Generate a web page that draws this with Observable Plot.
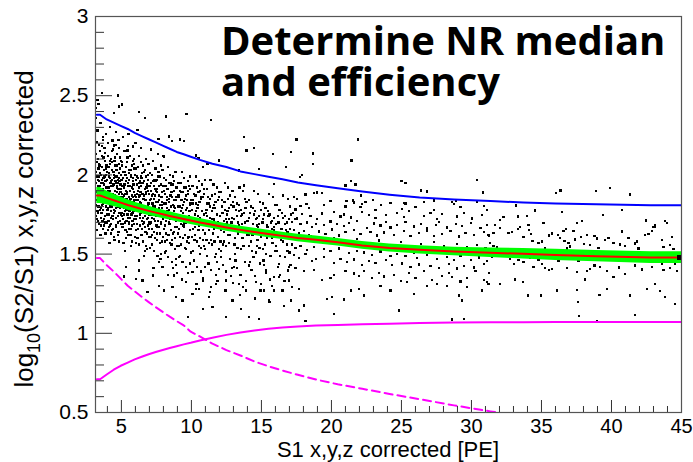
<!DOCTYPE html>
<html>
<head>
<meta charset="utf-8">
<script src="https://cdn.jsdelivr.net/npm/d3@7"></script>
<script src="https://cdn.jsdelivr.net/npm/@observablehq/plot@0.6"></script>
<style>
  html, body { margin: 0; padding: 0; background: #fff; }
  #wrap { position: relative; width: 693px; height: 462px; overflow: hidden; }
  svg [aria-label="dot"] path { shape-rendering: crispEdges; }
</style>
</head>
<body>
<div id="wrap">
  <div id="chart"></div>
</div>
<script>
// ---------- texts & axis ticks ----------
const titleLines = ["Determine NR median", "and efficiency"];
const xMajorTicks = [5, 10, 15, 20, 25, 30, 35, 40, 45];
const xMinorTicks = [4, 6, 7, 8, 9, 11, 12, 13, 14, 16, 17, 18, 19, 21, 22, 23, 24, 26, 27, 28, 29, 31, 32, 33, 34, 36, 37, 38, 39, 41, 42, 43, 44];
const yMajorTicks = [0.5, 1, 1.5, 2, 2.5, 3];
const yMinorTicks = [0.6, 0.7, 0.8, 0.9, 1.1, 1.2, 1.3, 1.4, 1.6, 1.7, 1.8, 1.9, 2.1, 2.2, 2.3, 2.4, 2.6, 2.7, 2.8, 2.9];
const xTitle = "S1 x,y,z corrected [PE]";
const yTitleMain = "log", yTitleSub = "10", yTitleRest = "(S2/S1) x,y,z corrected";

// ---------- binned curves (bin edges in S1 [PE]) ----------
const binEdges = [3.25, 3.7, 4.2, 4.7, 5.2, 5.7, 6.2, 6.7, 7.2, 7.7, 8.2, 8.7, 9.2, 9.7, 10.2, 11, 12, 13, 14, 15, 16, 17, 18.2, 19.6, 21.3, 23.1, 25.2, 27.4, 30.1, 32.6, 34.8, 37.2, 40.6, 45];
const upperLine = [2.38, 2.35, 2.33, 2.31, 2.29, 2.265, 2.245, 2.225, 2.205, 2.185, 2.165, 2.145, 2.13, 2.115, 2.095, 2.07, 2.05, 2.022, 2.005, 1.988, 1.972, 1.952, 1.935, 1.915, 1.895, 1.875, 1.857, 1.845, 1.835, 1.826, 1.82, 1.814, 1.809];
const medianLine = [1.87, 1.855, 1.84, 1.825, 1.81, 1.797, 1.785, 1.773, 1.762, 1.751, 1.741, 1.731, 1.721, 1.712, 1.70, 1.685, 1.668, 1.653, 1.64, 1.627, 1.615, 1.602, 1.59, 1.575, 1.555, 1.538, 1.527, 1.517, 1.508, 1.502, 1.495, 1.487, 1.478];
const medianErr = [0.05, 0.044, 0.04, 0.036, 0.033, 0.031, 0.03, 0.029, 0.028, 0.027, 0.026, 0.026, 0.025, 0.025, 0.024, 0.024, 0.023, 0.023, 0.023, 0.023, 0.023, 0.024, 0.024, 0.024, 0.025, 0.025, 0.026, 0.027, 0.03, 0.033, 0.035, 0.036, 0.037];
const effSolid = [0.71, 0.74, 0.77, 0.795, 0.815, 0.835, 0.852, 0.868, 0.882, 0.895, 0.907, 0.918, 0.93, 0.94, 0.955, 0.972, 0.99, 1.005, 1.018, 1.028, 1.036, 1.043, 1.049, 1.053, 1.057, 1.061, 1.065, 1.068, 1.07, 1.07, 1.071, 1.071, 1.071];
const effDashed = [1.475, 1.43, 1.39, 1.345, 1.30, 1.265, 1.23, 1.197, 1.165, 1.135, 1.105, 1.077, 1.05, 1.01, 0.98, 0.935, 0.894, 0.86, 0.822, 0.792, 0.765, 0.738, 0.708, 0.678, 0.65, 0.617, 0.584, 0.545, 0.507, 0.475, null, null, null];

// ---------- events: x (S1), y (log10 S2/S1) pairs ----------
const coreEvents = [
3.15,1.95, 3.22,2.08, 3.31,1.71, 3.38,1.88, 3.45,2.15, 3.52,1.79, 3.6,1.97, 3.68,1.66, 3.75,2.03, 3.83,1.84, 3.9,1.92, 3.97,1.75,
3.18,1.81, 3.27,2.21, 3.34,1.93, 3.41,1.69, 3.49,2.01, 3.57,1.87, 3.64,2.12, 3.71,1.78, 3.79,1.99, 3.86,1.63, 3.94,2.06,
3.16,1.74, 3.24,1.9, 3.36,2.04, 3.43,1.83, 3.51,1.62, 3.59,2.18, 3.66,1.91, 3.73,1.72, 3.81,2.09, 3.88,1.86, 3.96,1.97,
3.2,2.13, 3.29,1.77, 3.39,1.99, 3.47,1.93, 3.55,1.73, 3.62,2.05, 3.7,1.82, 3.77,1.68, 3.85,2.14, 3.92,1.8, 3.99,2.02,
3.17,1.89, 3.26,1.65, 3.33,2.1, 3.42,1.96, 3.5,1.86, 3.58,1.76, 3.67,2.22, 3.74,1.94, 3.82,1.7, 3.91,2.0, 3.98,1.85,
4.02,1.92, 4.08,1.71, 4.14,2.05, 4.21,1.84, 4.27,1.63, 4.33,1.97, 4.4,2.16, 4.46,1.78, 4.52,1.9, 4.59,1.67, 4.65,2.03, 4.71,1.81, 4.78,1.95, 4.84,1.58, 4.9,2.11, 4.97,1.86,
4.05,1.79, 4.11,1.99, 4.17,1.68, 4.24,2.1, 4.3,1.88, 4.36,1.74, 4.43,2.02, 4.49,1.61, 4.55,1.83, 4.62,2.19, 4.68,1.93, 4.74,1.7, 4.81,2.07, 4.87,1.76, 4.93,1.89, 4.99,2.0,
4.03,2.2, 4.09,1.86, 4.15,1.57, 4.22,1.95, 4.28,1.77, 4.35,2.08, 4.41,1.66, 4.47,1.98, 4.54,1.87, 4.6,1.73, 4.67,2.13, 4.73,1.91, 4.8,1.64, 4.86,1.96, 4.92,1.82, 4.98,1.69,
4.06,1.65, 4.13,2.01, 4.19,1.9, 4.25,1.73, 4.32,2.15, 4.38,1.82, 4.44,1.94, 4.51,1.59, 4.57,2.06, 4.64,1.85, 4.7,1.99, 4.76,1.62, 4.83,1.88, 4.89,2.04, 4.95,1.75,
4.07,2.05, 4.18,1.8, 4.29,1.93, 4.39,1.72, 4.5,2.09, 4.61,1.95, 4.72,1.84, 4.82,2.17, 4.94,1.91,
5.02,1.88, 5.08,1.67, 5.13,2.02, 5.19,1.79, 5.25,1.94, 5.31,1.6, 5.37,1.85, 5.43,2.11, 5.49,1.73, 5.55,1.97, 5.61,1.82, 5.67,1.55, 5.73,2.06, 5.79,1.76, 5.85,1.91, 5.91,1.69, 5.97,2.0,
5.04,1.74, 5.1,1.98, 5.16,1.83, 5.22,2.15, 5.28,1.7, 5.34,1.9, 5.4,1.64, 5.46,1.81, 5.52,2.03, 5.58,1.77, 5.64,1.93, 5.7,1.66, 5.76,1.87, 5.82,2.09, 5.88,1.72, 5.94,1.84,
5.03,2.08, 5.09,1.81, 5.15,1.57, 5.21,1.92, 5.27,1.77, 5.33,2.05, 5.39,1.71, 5.45,1.95, 5.51,1.62, 5.57,1.86, 5.63,2.12, 5.69,1.8, 5.75,1.68, 5.81,1.96, 5.87,1.83, 5.93,2.04, 5.99,1.61,
5.06,1.93, 5.12,1.72, 5.18,1.87, 5.24,1.52, 5.3,2.0, 5.36,1.78, 5.42,1.89, 5.48,2.18, 5.54,1.69, 5.6,1.84, 5.66,1.99, 5.72,1.75, 5.78,1.58, 5.84,1.86, 5.9,2.07, 5.96,1.79,
6.02,1.86, 6.07,1.65, 6.12,1.99, 6.18,1.77, 6.23,1.92, 6.28,1.56, 6.34,1.83, 6.39,2.08, 6.45,1.71, 6.5,1.95, 6.55,1.8, 6.61,1.49, 6.66,2.03, 6.71,1.74, 6.77,1.88, 6.82,1.63, 6.88,1.97, 6.93,1.82, 6.98,1.7,
6.04,1.72, 6.09,1.94, 6.15,1.6, 6.2,1.84, 6.26,2.12, 6.31,1.68, 6.36,1.89, 6.42,1.76, 6.47,2.01, 6.53,1.58, 6.58,1.85, 6.63,1.96, 6.69,1.67, 6.74,2.1, 6.8,1.79, 6.85,1.53, 6.91,1.9, 6.96,1.75,
6.03,2.04, 6.08,1.81, 6.14,1.69, 6.19,1.98, 6.25,1.46, 6.3,1.87, 6.35,1.73, 6.41,1.93, 6.46,1.62, 6.52,1.79, 6.57,2.06, 6.62,1.7, 6.68,1.84, 6.73,1.55, 6.79,1.92, 6.84,1.77, 6.9,2.0, 6.95,1.61,
6.06,1.57, 6.17,1.9, 6.27,1.78, 6.38,1.99, 6.49,1.66, 6.6,1.87, 6.7,1.52, 6.81,1.94, 6.92,1.73,
7.02,1.84, 7.08,1.61, 7.14,1.95, 7.2,1.73, 7.26,1.88, 7.32,1.52, 7.38,1.8, 7.44,2.04, 7.5,1.68, 7.56,1.91, 7.62,1.77, 7.68,1.45, 7.74,1.99, 7.8,1.7, 7.86,1.86, 7.92,1.58, 7.98,1.93,
7.04,1.69, 7.1,1.9, 7.16,1.56, 7.22,1.82, 7.28,2.09, 7.34,1.64, 7.4,1.87, 7.46,1.74, 7.52,1.97, 7.58,1.49, 7.64,1.83, 7.7,1.93, 7.76,1.63, 7.82,2.06, 7.88,1.76, 7.94,1.42,
7.05,2.01, 7.11,1.78, 7.17,1.66, 7.23,1.96, 7.29,1.41, 7.35,1.85, 7.41,1.71, 7.47,1.9, 7.53,1.59, 7.59,1.75, 7.65,2.02, 7.71,1.67, 7.77,1.81, 7.83,1.5, 7.89,1.89, 7.95,1.72,
7.07,1.54, 7.19,1.87, 7.31,1.76, 7.43,1.96, 7.55,1.63, 7.67,1.84, 7.79,1.47, 7.91,1.79,
8.03,1.82, 8.09,1.58, 8.15,1.93, 8.21,1.71, 8.28,1.86, 8.34,1.48, 8.4,1.78, 8.46,2.0, 8.52,1.65, 8.58,1.89, 8.65,1.75, 8.71,1.41, 8.77,1.96, 8.83,1.67, 8.89,1.84, 8.95,1.55,
8.05,1.66, 8.11,1.88, 8.17,1.52, 8.24,1.79, 8.3,2.05, 8.36,1.62, 8.42,1.85, 8.49,1.72, 8.55,1.94, 8.61,1.45, 8.67,1.81, 8.73,1.9, 8.8,1.6, 8.86,2.02, 8.92,1.73, 8.98,1.38,
8.07,1.98, 8.13,1.76, 8.19,1.63, 8.26,1.91, 8.32,1.37, 8.38,1.83, 8.44,1.69, 8.51,1.87, 8.57,1.56, 8.63,1.73, 8.69,1.99, 8.75,1.64, 8.82,1.79, 8.88,1.47, 8.94,1.86,
8.1,1.51, 8.23,1.84, 8.37,1.74, 8.5,1.95, 8.64,1.59, 8.78,1.8, 8.91,1.43,
9.03,1.8, 9.1,1.55, 9.16,1.9, 9.23,1.69, 9.29,1.84, 9.36,1.45, 9.42,1.76, 9.49,1.98, 9.55,1.62, 9.62,1.87, 9.68,1.73, 9.75,1.38, 9.81,1.93, 9.88,1.65, 9.94,1.82,
9.05,1.63, 9.12,1.86, 9.19,1.49, 9.25,1.77, 9.32,2.02, 9.38,1.6, 9.45,1.83, 9.51,1.7, 9.58,1.92, 9.64,1.42, 9.71,1.79, 9.77,1.88, 9.84,1.57, 9.9,1.99, 9.97,1.71,
9.07,1.95, 9.14,1.73, 9.21,1.61, 9.27,1.89, 9.34,1.34, 9.4,1.81, 9.47,1.67, 9.53,1.85, 9.6,1.53, 9.66,1.71, 9.73,1.96, 9.79,1.61, 9.86,1.77, 9.92,1.44, 9.99,1.84,
9.09,1.48, 9.3,1.79, 9.5,1.73, 9.7,1.58, 9.89,1.91,
10.04,1.78, 10.11,1.52, 10.18,1.88, 10.25,1.67, 10.32,1.82, 10.39,1.42, 10.46,1.74, 10.53,1.96, 10.6,1.6, 10.67,1.85, 10.74,1.71, 10.81,1.35, 10.88,1.91, 10.95,1.63,
10.06,1.61, 10.13,1.84, 10.2,1.46, 10.27,1.75, 10.34,1.99, 10.41,1.58, 10.48,1.81, 10.55,1.68, 10.62,1.9, 10.69,1.39, 10.76,1.77, 10.83,1.86, 10.9,1.55, 10.97,1.97,
10.08,1.93, 10.15,1.71, 10.22,1.59, 10.29,1.87, 10.36,1.31, 10.43,1.79, 10.5,1.65, 10.57,1.83, 10.64,1.5, 10.71,1.69, 10.78,1.94, 10.85,1.59, 10.92,1.75, 10.99,1.42,
10.1,1.66, 10.3,1.28, 10.5,1.89, 10.7,1.54,
11.05,1.76, 11.12,1.49, 11.2,1.86, 11.27,1.65, 11.35,1.8, 11.42,1.4, 11.5,1.72, 11.57,1.94, 11.65,1.58, 11.72,1.83, 11.8,1.69, 11.87,1.33, 11.95,1.89,
11.07,1.59, 11.15,1.82, 11.22,1.44, 11.3,1.73, 11.37,1.97, 11.45,1.56, 11.52,1.79, 11.6,1.66, 11.67,1.88, 11.75,1.37, 11.82,1.75, 11.9,1.84, 11.97,1.53,
11.09,1.91, 11.17,1.69, 11.25,1.57, 11.32,1.85, 11.4,1.29, 11.47,1.77, 11.55,1.63, 11.62,1.81, 11.7,1.48, 11.77,1.67, 11.85,1.92, 11.92,1.61,
11.1,1.74, 11.35,1.26, 11.6,1.71, 11.85,1.45,
12.05,1.74, 12.13,1.48, 12.21,1.84, 12.3,1.64, 12.38,1.78, 12.46,1.39, 12.55,1.7, 12.63,1.92, 12.71,1.57, 12.8,1.81, 12.88,1.67, 12.96,1.32,
12.07,1.58, 12.16,1.8, 12.24,1.43, 12.33,1.71, 12.41,1.95, 12.49,1.55, 12.58,1.77, 12.66,1.65, 12.75,1.87, 12.83,1.36, 12.91,1.73, 12.99,1.83,
12.1,1.89, 12.19,1.68, 12.27,1.56, 12.36,1.83, 12.44,1.27, 12.52,1.75, 12.61,1.62, 12.69,1.79, 12.78,1.47, 12.86,1.66, 12.94,1.9,
12.12,1.52, 12.4,1.69, 12.68,1.72, 12.9,1.41,
13.06,1.72, 13.15,1.46, 13.24,1.82, 13.33,1.63, 13.42,1.77, 13.51,1.37, 13.6,1.69, 13.69,1.9, 13.78,1.55, 13.87,1.79, 13.96,1.65,
13.08,1.56, 13.17,1.78, 13.26,1.41, 13.35,1.7, 13.44,1.92, 13.53,1.53, 13.62,1.75, 13.71,1.64, 13.8,1.85, 13.89,1.33, 13.98,1.71,
13.1,1.86, 13.2,1.67, 13.29,1.54, 13.38,1.81, 13.47,1.24, 13.56,1.74, 13.65,1.6, 13.74,1.76, 13.83,1.45, 13.92,1.66,
13.13,1.5, 13.4,1.68, 13.67,1.29, 13.94,1.83,
14.06,1.71, 14.16,1.45, 14.26,1.8, 14.36,1.62, 14.46,1.75, 14.56,1.36, 14.66,1.68, 14.76,1.88, 14.86,1.54, 14.96,1.78,
14.09,1.55, 14.19,1.76, 14.29,1.4, 14.39,1.69, 14.49,1.9, 14.59,1.51, 14.69,1.73, 14.79,1.63, 14.89,1.83, 14.99,1.31,
14.12,1.84, 14.22,1.66, 14.32,1.52, 14.42,1.79, 14.52,1.22, 14.62,1.72, 14.72,1.59, 14.82,1.74, 14.92,1.44,
14.14,1.62, 14.44,1.48, 14.74,1.67, 14.94,1.27,
15.07,1.7, 15.18,1.43, 15.29,1.79, 15.4,1.6, 15.51,1.74, 15.62,1.34, 15.73,1.66, 15.84,1.86, 15.95,1.52,
15.1,1.53, 15.21,1.75, 15.32,1.38, 15.43,1.67, 15.54,1.88, 15.65,1.49, 15.76,1.71, 15.87,1.61, 15.98,1.81,
15.13,1.82, 15.24,1.64, 15.35,1.5, 15.46,1.77, 15.57,1.2, 15.68,1.7, 15.79,1.57, 15.9,1.73,
15.15,1.46, 15.45,1.63, 15.75,1.3, 15.92,1.65,
16.05,1.69, 16.17,1.42, 16.29,1.78, 16.41,1.59, 16.53,1.73, 16.65,1.33, 16.77,1.65, 16.89,1.85, 17.01,1.51, 17.13,1.75,
16.08,1.52, 16.2,1.74, 16.32,1.37, 16.44,1.66, 16.56,1.87, 16.68,1.48, 16.8,1.7, 16.92,1.6, 17.04,1.8, 17.16,1.29,
16.11,1.81, 16.23,1.63, 16.35,1.49, 16.47,1.76, 16.59,1.17, 16.71,1.69, 16.83,1.56, 16.95,1.72, 17.07,1.43,
16.14,1.61, 16.5,1.27, 16.86,1.64
];
const coreEventsDense = [
3.23,1.84, 3.28,1.99, 3.35,1.76, 3.4,2.07, 3.46,1.9, 3.53,1.68, 3.56,2.0, 3.63,1.81, 3.69,1.95, 3.72,2.11, 3.78,1.87, 3.84,1.74, 3.89,2.04, 3.95,1.89,
3.19,2.02, 3.25,1.72, 3.32,1.97, 3.37,1.8, 3.44,2.06, 3.48,1.78, 3.54,1.95, 3.61,1.85, 3.65,1.71, 3.72,1.98, 3.76,1.88, 3.8,2.17, 3.87,1.96, 3.93,1.7,
4.01,1.78, 4.04,2.12, 4.1,1.92, 4.12,1.75, 4.16,1.98, 4.2,2.07, 4.23,1.69, 4.26,1.86, 4.31,2.03, 4.34,1.8, 4.37,1.93, 4.42,1.72, 4.45,2.0, 4.48,1.85,
4.53,2.11, 4.56,1.77, 4.58,1.96, 4.63,1.68, 4.66,1.89, 4.69,2.06, 4.75,1.8, 4.77,1.97, 4.79,1.86, 4.85,2.01, 4.88,1.71, 4.91,1.94, 4.96,1.81, 4.99,2.09,
4.04,1.9, 4.12,1.67, 4.19,2.09, 4.26,1.96, 4.34,1.65, 4.41,1.88, 4.48,1.76, 4.55,1.99, 4.62,1.79, 4.69,1.92, 4.76,1.74, 4.83,1.98, 4.9,1.79, 4.97,1.94,
5.01,1.97, 5.05,1.76, 5.07,2.06, 5.11,1.86, 5.14,1.69, 5.17,1.94, 5.2,1.75, 5.23,2.02, 5.26,1.83, 5.29,1.65, 5.32,1.96, 5.35,1.71, 5.38,2.08, 5.41,1.88,
5.44,1.75, 5.47,1.93, 5.5,1.79, 5.53,1.66, 5.56,2.01, 5.59,1.9, 5.62,1.73, 5.65,1.85, 5.68,2.03, 5.71,1.62, 5.74,1.92, 5.77,1.81, 5.8,1.71, 5.83,1.98,
5.86,1.77, 5.89,1.89, 5.92,2.1, 5.95,1.74, 5.98,1.87, 5.12,1.81, 5.27,1.88, 5.41,1.98, 5.56,1.7, 5.71,2.0, 5.86,1.94,
6.01,1.79, 6.05,1.97, 6.1,1.74, 6.13,1.88, 6.16,2.05, 6.21,1.66, 6.24,1.86, 6.29,1.95, 6.32,1.75, 6.37,1.82, 6.4,1.62, 6.43,1.98, 6.48,1.78, 6.51,1.88,
6.56,1.69, 6.59,2.02, 6.64,1.8, 6.67,1.91, 6.72,1.64, 6.75,1.84, 6.78,1.99, 6.83,1.72, 6.86,1.93, 6.89,1.81, 6.94,2.07, 6.97,1.66, 6.99,1.88,
6.11,1.84, 6.33,1.96, 6.55,1.73, 6.76,1.89, 6.9,1.68,
7.01,1.77, 7.06,1.93, 7.09,1.7, 7.13,1.85, 7.18,2.0, 7.21,1.62, 7.25,1.8, 7.3,1.93, 7.33,1.72, 7.37,1.97, 7.42,1.6, 7.45,1.83, 7.49,1.76, 7.54,1.89,
7.57,1.67, 7.61,1.99, 7.66,1.79, 7.69,1.87, 7.73,1.57, 7.78,1.74, 7.81,1.94, 7.85,1.69, 7.9,1.83, 7.93,2.03, 7.97,1.61, 7.15,1.75, 7.39,1.91, 7.63,1.71, 7.87,1.81,
8.02,1.75, 8.06,1.9, 8.12,1.68, 8.16,1.82, 8.2,1.97, 8.25,1.59, 8.29,1.77, 8.33,1.91, 8.39,1.7, 8.43,1.95, 8.47,1.57, 8.53,1.8, 8.56,1.73, 8.62,1.86,
8.66,1.63, 8.7,1.94, 8.76,1.77, 8.79,1.84, 8.85,1.53, 8.9,1.71, 8.93,1.92, 8.99,1.67,
9.02,1.72, 9.08,1.87, 9.13,1.66, 9.18,1.8, 9.22,1.95, 9.28,1.56, 9.33,1.74, 9.37,1.89, 9.44,1.68, 9.48,1.92, 9.52,1.54, 9.59,1.78, 9.63,1.7, 9.69,1.84,
9.74,1.6, 9.78,1.9, 9.85,1.74, 9.91,1.81, 9.96,1.51,
10.05,1.7, 10.14,1.82, 10.24,1.62, 10.33,1.77, 10.42,1.92, 10.52,1.55, 10.61,1.73, 10.7,1.86, 10.8,1.65, 10.89,1.88, 10.98,1.53, 11.08,1.78, 11.18,1.68,
11.28,1.82, 11.38,1.59, 11.48,1.87, 11.58,1.72, 11.68,1.79, 11.78,1.5, 11.88,1.7, 11.98,1.86,
12.09,1.65, 12.22,1.76, 12.35,1.58, 12.48,1.72, 12.6,1.85, 12.74,1.62, 12.87,1.7, 13.0,1.8, 13.14,1.6, 13.27,1.74, 13.41,1.66, 13.55,1.78, 13.68,1.55,
13.82,1.7, 13.95,1.62, 14.1,1.73, 14.24,1.58, 14.38,1.66, 14.52,1.77, 14.66,1.55, 14.8,1.69, 14.95,1.61, 15.1,1.72, 15.26,1.56, 15.42,1.68, 15.58,1.75,
15.74,1.6, 15.9,1.67, 16.06,1.55, 16.22,1.7, 16.38,1.63, 16.54,1.58, 16.7,1.74, 16.86,1.52, 17.02,1.66
];
const highTailEvents = [
3.61,2.516, 4.73,2.501, 3.3,2.474, 5.03,2.444, 4.84,2.432, 4.49,2.392, 3.37,2.449, 6.23,2.398, 6.68,2.36, 8.18,2.369,
9.65,2.385, 11.39,2.345, 6.15,2.284, 7.65,2.228, 8.42,2.242, 8.61,2.213, 9.18,2.223, 9.49,2.213, 13.77,2.238, 13.94,2.154,
14.49,2.171, 15.8,2.133, 17.11,2.143, 5.84,2.179, 5.44,2.154, 4.37,2.217, 4.49,2.186, 8.06,2.112, 10.32,2.122, 10.51,2.108,
11.15,2.07, 10.8,2.049, 11.99,2.091, 13.42,2.028, 14.84,2.038, 16.75,2.049, 15.92,1.944, 13.77,1.933,
3.3,2.28, 3.5,2.33, 3.2,2.36, 3.9,2.26, 4.2,2.3, 4.6,2.27, 5.1,2.24, 5.5,2.26, 6.0,2.2, 6.4,2.17, 7.1,2.16, 7.6,2.13,
8.0,2.12, 3.7,2.24, 4.8,2.22, 3.2,2.42, 3.4,2.19
];
const lowTailEvents = [
5.2,1.358, 6.04,1.343, 6.51,1.333, 6.87,1.259, 7.7,1.301, 8.06,1.27, 8.65,1.291, 8.89,1.228, 9.37,1.207, 9.73,1.101,
10.08,1.249, 10.56,1.28, 10.8,1.154, 11.27,1.228, 11.51,1.165, 11.75,1.312, 12.46,1.101, 12.94,1.207, 13.54,1.154, 13.89,1.27,
14.13,1.101, 14.84,1.091, 15.2,1.27, 15.56,1.207, 15.92,1.27, 16.27,1.354, 16.87,1.396, 17.11,1.207, 8.77,1.365, 7.23,1.365,
9.61,1.322, 10.8,1.333, 12.46,1.333, 13.42,1.312, 14.61,1.322, 15.32,1.396, 16.27,1.438, 16.99,1.417, 16.99,1.333, 15.92,1.354,
14.13,1.428, 13.06,1.417, 11.99,1.407, 10.08,1.386, 5.32,1.417, 6.27,1.396
];
const midEvents = [
17.44,1.781, 17.79,1.802, 18.22,1.818, 18.39,1.79, 19.46,1.812, 19.94,1.835, 21.01,1.8, 21.6,1.826, 22.08,1.795, 22.44,1.831,
23.15,1.777, 23.56,1.809, 24.22,1.825, 25.06,1.786, 25.29,1.819, 26.01,1.796, 26.6,1.83, 27.32,1.778, 28.75,1.815, 29.22,1.797,
30.41,1.829, 30.89,1.804, 31.13,1.78,
17.27,1.76, 17.56,1.725, 17.91,1.752, 18.51,1.743, 18.98,1.722, 19.34,1.756, 20.18,1.768, 20.65,1.738, 20.89,1.75, 21.37,1.731,
22.2,1.764, 22.68,1.745, 23.15,1.727, 23.87,1.748, 24.7,1.757, 25.18,1.733, 25.53,1.77, 26.6,1.74, 27.08,1.761, 27.56,1.722,
27.91,1.753, 28.98,1.738, 29.46,1.758, 30.06,1.725, 30.77,1.749,
17.2,1.705, 17.44,1.723, 17.79,1.69, 18.27,1.7, 18.63,1.672, 18.87,1.688, 19.46,1.682, 19.94,1.706, 20.41,1.69, 20.89,1.676,
21.25,1.698, 21.84,1.71, 22.56,1.664, 23.03,1.693, 23.51,1.68, 23.87,1.702, 24.22,1.668, 24.7,1.686, 25.29,1.705, 25.89,1.674,
26.37,1.69, 26.84,1.662, 27.44,1.685, 27.68,1.701, 28.27,1.668, 28.87,1.689, 29.34,1.677, 29.94,1.695, 30.65,1.664, 31.13,1.686,
17.32,1.652, 17.68,1.634, 18.03,1.646, 18.39,1.62, 19.1,1.643, 19.58,1.628, 20.06,1.655, 20.53,1.617, 21.01,1.639, 21.6,1.651,
22.08,1.626, 22.79,1.641, 23.27,1.618, 23.75,1.637, 24.46,1.622, 25.18,1.646, 25.65,1.612, 26.25,1.631, 26.84,1.649, 27.32,1.615,
27.91,1.628, 28.51,1.644, 29.1,1.611, 29.58,1.633, 30.18,1.62, 30.89,1.641, 31.25,1.616,
17.08,1.61, 17.56,1.595, 18.51,1.612, 19.22,1.588, 20.18,1.6, 21.13,1.581, 21.84,1.596, 22.79,1.568, 23.39,1.586, 24.22,1.559,
24.94,1.574, 25.65,1.551, 26.37,1.566, 27.32,1.578, 28.03,1.548, 28.98,1.562, 29.7,1.541, 30.41,1.555, 31.01,1.537,
17.2,1.56, 17.44,1.539, 17.79,1.551, 18.27,1.528, 18.75,1.545, 19.46,1.53, 19.94,1.518, 20.53,1.535, 21.25,1.507, 21.84,1.522,
22.32,1.51, 22.91,1.496, 23.51,1.517, 24.22,1.487, 24.7,1.501, 25.29,1.488, 25.89,1.505, 26.13,1.474, 26.84,1.493, 27.56,1.468,
28.27,1.483, 28.75,1.464, 29.22,1.49, 29.94,1.462, 30.53,1.479, 31.13,1.455,
17.32,1.495, 17.68,1.474, 18.15,1.5, 18.63,1.455, 18.87,1.47, 19.46,1.482, 20.18,1.445, 20.65,1.468, 21.13,1.452, 21.6,1.466,
22.2,1.432, 22.68,1.458, 23.15,1.444, 23.87,1.465, 24.34,1.43, 25.06,1.441, 25.65,1.419, 26.25,1.435, 27.08,1.425, 27.68,1.413,
28.39,1.436, 28.98,1.409, 29.46,1.427, 30.18,1.415, 30.89,1.437,
17.44,1.412, 18.03,1.392, 18.75,1.4, 19.34,1.338, 19.94,1.35, 20.18,1.37, 21.01,1.391, 21.6,1.378, 21.96,1.36, 22.32,1.395,
22.91,1.348, 23.39,1.38, 23.75,1.359, 24.46,1.368, 24.94,1.328, 25.53,1.383, 26.01,1.349, 26.6,1.392, 27.2,1.338, 27.91,1.362,
28.39,1.379, 28.63,1.357, 29.22,1.327, 29.7,1.349, 30.29,1.393, 30.89,1.336, 31.25,1.381,
17.68,1.28, 19.7,1.217, 20.06,1.228, 20.89,1.213, 21.37,1.27, 21.96,1.28, 22.32,1.238, 23.51,1.301, 24.22,1.27, 25.41,1.322,
25.89,1.249, 26.84,1.301, 27.56,1.312, 28.27,1.301, 29.1,1.238, 29.34,1.207, 29.7,1.291, 30.77,1.27, 31.13,1.322,
17.68,1.144, 18.03,1.175, 18.15,1.076, 20.18,1.123, 24.82,1.144, 28.63,1.087, 29.46,1.091,
17.51,2.223, 21.91,2.223, 18.68,2.135, 18.68,2.07, 21.44,2.091, 17.91,2.0, 17.75,1.986, 21.37,1.96, 21.72,1.939, 21.01,1.933,
25.01,1.96, 25.29,1.948, 26.37,1.901, 26.84,1.895, 30.41,1.969, 30.84,1.889,
17.32,1.859, 17.56,1.849, 18.15,1.876, 18.75,1.885, 18.98,1.889, 19.34,1.885, 19.89,1.834, 21.08,1.834, 21.56,1.838, 22.13,1.87,
22.2,1.817, 22.98,1.843, 25.18,1.821, 27.32,1.838, 28.63,1.828, 28.91,1.834
];
const farEvents = [
36.03,1.885, 36.36,1.901, 38.91,1.897, 39.89,1.916, 41.34,1.876, 33.17,1.807,
34.55,1.775, 36.46,1.764, 39.39,1.748, 40.74,1.779, 32.29,1.733, 32.05,1.716, 33.32,1.737, 33.96,1.743, 35.15,1.695, 31.7,1.684,
32.05,1.665, 37.53,1.695, 37.89,1.708, 43.84,1.708, 43.96,1.695, 42.48,1.712, 43.12,1.68, 43.0,1.67, 33.32,1.659, 33.48,1.672,
34.08,1.684, 34.12,1.653, 32.65,1.631, 32.89,1.641, 31.22,1.622, 31.58,1.634, 31.34,1.568, 31.58,1.551, 31.82,1.547, 32.05,1.532,
33.72,1.607, 34.27,1.625, 34.36,1.585, 34.79,1.569, 35.03,1.579, 35.27,1.54, 35.51,1.617, 35.74,1.63, 36.17,1.621, 36.34,1.6,
36.58,1.645, 36.74,1.659, 36.65,1.582, 36.93,1.57, 37.05,1.548, 36.82,1.535, 37.29,1.644, 37.41,1.592, 37.84,1.61, 38.01,1.565,
38.24,1.622, 38.48,1.557, 38.79,1.613, 38.96,1.598, 39.08,1.539, 39.55,1.588, 39.79,1.603, 40.15,1.572, 40.62,1.561, 40.74,1.642,
40.98,1.55, 41.22,1.604, 41.7,1.567, 41.82,1.58, 41.93,1.536, 42.41,1.619, 42.65,1.626, 42.89,1.647, 43.12,1.674, 43.6,1.589,
43.72,1.544, 44.2,1.559, 44.32,1.608, 44.43,1.531,
31.46,1.48, 31.93,1.491, 32.77,1.47, 33.01,1.438, 33.36,1.463, 33.72,1.449, 34.2,1.476, 34.43,1.421, 34.79,1.463, 35.03,1.438,
35.27,1.414, 35.55,1.398, 35.74,1.404, 36.22,1.459, 36.82,1.41, 37.53,1.386, 37.65,1.459, 38.24,1.392, 38.48,1.405, 38.79,1.428,
39.2,1.419, 39.67,1.394, 40.15,1.354, 40.51,1.415, 40.98,1.375, 41.22,1.459, 41.7,1.428, 42.17,1.403, 42.89,1.42, 43.6,1.438,
43.72,1.399, 44.2,1.412, 44.55,1.438, 44.67,1.393,
31.22,1.312, 32.01,1.312, 33.12,1.339, 33.67,1.322, 34.03,1.238, 34.98,1.238, 36.1,1.27, 37.53,1.274, 37.6,1.2, 37.7,1.108,
38.12,1.339, 38.96,1.08, 39.15,1.242, 39.67,1.28, 41.34,1.238, 41.7,1.116, 42.53,1.28, 43.12,1.312, 43.48,1.266, 43.84,1.228,
44.55,1.186
];

// ---------- build tables ----------
const toRows = (flat) => { const r = []; for (let i = 0; i < flat.length; i += 2) r.push({x: flat[i], y: flat[i + 1]}); return r; };
const events = [coreEvents, coreEventsDense, highTailEvents, lowTailEvents, midEvents, farEvents].flatMap(toRows);
const nBins = binEdges.length - 1;
const binCenters = binEdges.slice(0, nBins).map((e, i) => (e + binEdges[i + 1]) / 2);
// vertex list: start edge, bin centres, end edge
const curveRows = (vals) => [
  {x: binEdges[0], y: vals[0]},
  ...binCenters.map((x, i) => ({x, y: vals[i]})),
  {x: binEdges[nBins], y: vals[nBins - 1]}
];
const medianRows = curveRows(medianLine);
const errRows = curveRows(medianErr);
const bandRows = medianRows.map((d, i) => ({x: d.x, lo: d.y - errRows[i].y, hi: d.y + errRows[i].y}));
const endPoint = [medianRows[medianRows.length - 1]];

// ---------- layout ----------
const W = 693, H = 462, mL = 95, mR = 12, mT = 16, mB = 50;
const frameW = W - mL - mR, frameH = H - mT - mB;
const tickColor = "#333";
const sans = "'Liberation Sans', Arial, sans-serif";

const plot = Plot.plot({
  width: W, height: H,
  marginLeft: mL, marginRight: mR, marginTop: mT, marginBottom: mB,
  style: {fontFamily: sans, fontSize: "21px", background: "#fff", color: "#000", overflow: "visible"},
  x: {domain: [3.15, 45]},
  y: {domain: [0.5, 3]},
  marks: [
    Plot.dot(events, {x: "x", y: "y", symbol: "square", r: 1.25, fill: "#000", clip: true}),
    Plot.areaY(bandRows, {x: "x", y1: "lo", y2: "hi", fill: "#00ff00", clip: true}),
    Plot.line(curveRows(upperLine), {x: "x", y: "y", stroke: "#0000ff", strokeWidth: 2, clip: true}),
    Plot.line(curveRows(effSolid), {x: "x", y: "y", stroke: "#ff00ff", strokeWidth: 2, clip: true}),
    Plot.line(curveRows(effDashed), {x: "x", y: "y", stroke: "#ff00ff", strokeWidth: 2, strokeDasharray: "8,5", clip: true}),
    Plot.line(medianRows, {x: "x", y: "y", stroke: "#ff0000", strokeWidth: 2, clip: true}),
    Plot.dot(endPoint, {x: "x", y: "y", symbol: "square", r: 3, fill: "#000", dx: -2, clip: true}),
    Plot.ruleX(xMajorTicks, {insetTop: frameH - 12, stroke: tickColor}),
    Plot.ruleX(xMinorTicks, {insetTop: frameH - 6, stroke: tickColor}),
    Plot.ruleY(yMajorTicks, {insetRight: frameW - 17, stroke: tickColor}),
    Plot.ruleY(yMinorTicks, {insetRight: frameW - 9, stroke: tickColor}),
    Plot.frame({stroke: "#555", strokeWidth: 1.2}),
    Plot.axisX({ticks: xMajorTicks, tickSize: 0, tickPadding: 6.5, tickFormat: d => String(d), label: null, fontSize: 20}),
    Plot.axisY({ticks: yMajorTicks, tickSize: 0, tickPadding: 7, tickFormat: d => String(d), label: null, fontSize: 21})
  ]
});
document.getElementById("chart").appendChild(plot);

// ---------- titles ----------
const svg = d3.select(plot);
const tt = svg.append("text")
  .attr("x", 221).attr("y", 54.5)
  .attr("text-anchor", "start")
  .style("font-family", "'Open Sans', sans-serif").style("font-weight", 700).style("font-size", "40px")
  .attr("fill", "#000");
titleLines.forEach((line, i) => tt.append("tspan").attr("x", 221).attr("dy", i === 0 ? 0 : 41).text(line));

svg.append("text")
  .attr("x", mL + frameW / 2).attr("y", 457)
  .attr("text-anchor", "middle")
  .style("font-size", "22px").style("font-family", sans)
  .attr("fill", "#000")
  .text(xTitle);
const yt = svg.append("text")
  .attr("transform", `translate(33,${mT + frameH / 2 + 15}) rotate(-90)`)
  .attr("text-anchor", "middle")
  .style("font-size", "26px").style("font-family", sans)
  .attr("fill", "#000");
yt.append("tspan").text(yTitleMain);
yt.append("tspan").attr("dy", 7).style("font-size", "18px").text(yTitleSub);
yt.append("tspan").attr("dy", -7).text(yTitleRest);
</script>
</body>
</html>
